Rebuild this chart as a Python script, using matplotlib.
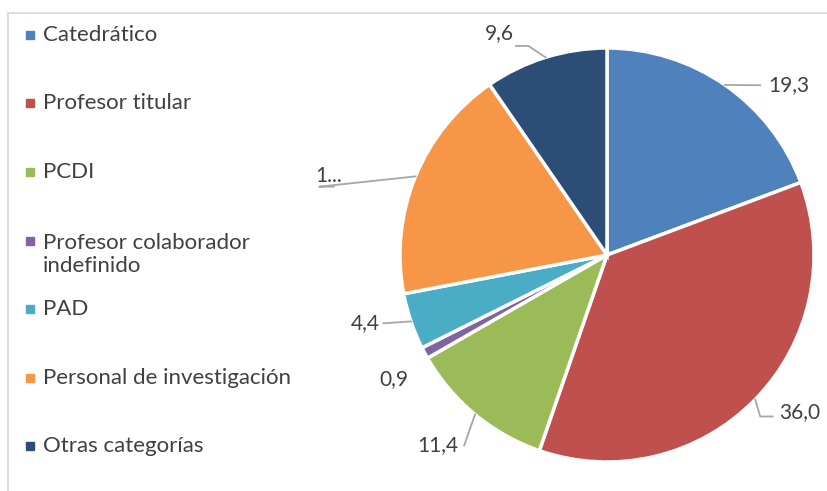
import numpy as np
import matplotlib.pyplot as plt
from matplotlib.patches import Rectangle
from matplotlib.lines import Line2D

categories = ["Catedrático", "Profesor titular", "PCDI",
              "Profesor colaborador\nindefinido", "PAD",
              "Personal de investigación", "Otras categorías"]
values = [19.3, 36.0, 11.4, 0.9, 4.4, 18.4, 9.6]
shown_labels = ["19,3", "36,0", "11,4", "0,9", "4,4", "1...", "9,6"]
colors = ["#4F81BD", "#C0504D", "#9BBB59", "#8064A2", "#4BACC6", "#F79646", "#2C4D75"]

# label placement (pie radius units): text position, alignment, leader elbow points
label_style = [
    dict(xy=(0.78, 0.82), ha="left", path=[(0.74, 0.82)]),
    dict(xy=(0.83, -0.76), ha="left", path=[(0.74, -0.78), (0.80, -0.78)]),
    dict(xy=(-0.72, -0.92), ha="right", path=[(-0.69, -0.92)]),
    dict(xy=(-0.96, -0.60), ha="right", path=None),
    dict(xy=(-1.10, -0.33), ha="right", path=[(-1.08, -0.33)]),
    dict(xy=(-1.41, 0.38), ha="left", path=[(-1.39, 0.33), (-1.32, 0.33)]),
    dict(xy=(-0.45, 1.07), ha="right", path=[(-0.38, 1.01), (-0.44, 1.01)]),
]

text_color = "#404040"
font = "Lato"
W, H = 828, 491

fig = plt.figure(figsize=(W / 100, H / 100), dpi=100)

# chart frame (only top and left edges visible)
fig.add_artist(Line2D([8 / W, 1], [1 - 13 / H, 1 - 13 / H], color="#D9D9D9", lw=1.2))
fig.add_artist(Line2D([8 / W, 8 / W], [0, 1 - 13 / H], color="#D9D9D9", lw=1.2))

cx, cy, r = 607, 255, 207
ax = fig.add_axes([(cx - r) / W, (H - cy - r) / H, 2 * r / W, 2 * r / H])
wedges, _ = ax.pie(values, colors=colors, startangle=90, counterclock=False,
                   wedgeprops=dict(edgecolor="white", linewidth=2.5))
ax.set_xlim(-1, 1)
ax.set_ylim(-1, 1)
ax.set_axis_off()

# data labels with leader lines
cum = np.cumsum([0] + values)
total = sum(values)
for i, (lab, st) in enumerate(zip(shown_labels, label_style)):
    mid = np.deg2rad(90 - (cum[i] + values[i] / 2) / total * 360)
    ex, ey = np.cos(mid), np.sin(mid)
    if st["path"]:
        xs, ys = zip(*([(ex, ey)] + st["path"]))
        ax.plot(xs, ys, color="#A6A6A6", lw=1.3, clip_on=False)
    ax.text(st["xy"][0], st["xy"][1], lab, ha=st["ha"], va="center",
            fontsize=15, color=text_color, family=font, clip_on=False)

# legend
rows = [35, 103, 172, 241, 309, 378, 446]
for cat, col, y in zip(categories, colors, rows):
    fig.add_artist(Rectangle((26 / W, 1 - (y + 4) / H), 8 / W, 8 / H,
                             color=col, transform=fig.transFigure))
    ty = y + 13.5 if "\n" in cat else y
    fig.text(43 / W, 1 - ty / H, cat, ha="left", va="center",
             fontsize=16, color=text_color, family=font, linespacing=1.2)

fig.savefig("out.png", dpi=100)
